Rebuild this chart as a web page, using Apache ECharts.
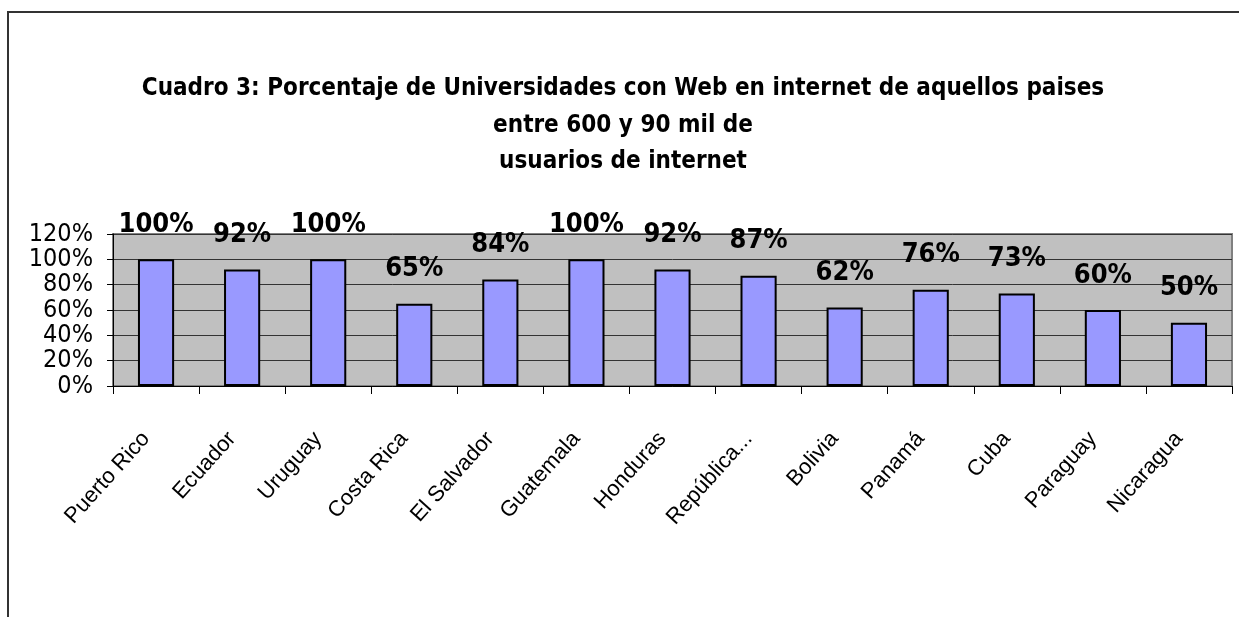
<!DOCTYPE html>
<html>
<head>
<meta charset="utf-8">
<script src="https://cdn.jsdelivr.net/npm/echarts@6/dist/echarts.min.js"></script>
<style>
  html, body { margin: 0; padding: 0; background: #fff; }
  .frame {
    position: absolute; left: 7px; top: 11px; width: 1240px; height: 620px;
    border-left: 2px solid #333; border-top: 2px solid #333;
  }
  #chart { position: absolute; left: 0; top: 0; width: 1239px; height: 617px; }
</style>
</head>
<body>
<div class="frame"></div>
<div id="chart"></div>
<script>
  // datos del cuadro 3
  const countries = ['Puerto Rico', 'Ecuador', 'Uruguay', 'Costa Rica', 'El Salvador', 'Guatemala',
    'Honduras', 'República...', 'Bolivia', 'Panamá', 'Cuba', 'Paraguay', 'Nicaragua'];
  const percents = [100, 92, 100, 65, 84, 100, 92, 87, 62, 76, 73, 60, 50];
  const yTicks = [0, 20, 40, 60, 80, 100, 120];
  const titleLines = ['Cuadro 3: Porcentaje de Universidades con Web en internet de aquellos paises',
    'entre 600 y 90 mil de', 'usuarios de internet'];

  const narrow = 'DejaVu Sans Condensed';

  let chart = echarts.init(document.getElementById('chart'));
  chart.setOption({
    animation: false,
    title: {
      text: titleLines.join('\n'),
      left: 618,
      textAlign: 'center',
      top: 66,
      textStyle: {
        fontFamily: narrow,
        fontWeight: 'bold',
        fontSize: 24,
        lineHeight: 36.5,
        color: '#000'
      }
    },
    grid: {
      left: 113, right: 7, top: 234, bottom: 231,
      show: true,
      backgroundColor: '#c0c0c0',
      borderColor: '#808080',
      borderWidth: 2
    },
    xAxis: {
      type: 'category',
      data: countries,
      axisLine: { lineStyle: { color: '#000', width: 1 } },
      axisTick: { show: true, length: 8, lineStyle: { color: '#000' } },
      axisLabel: {
        rotate: 48,
        margin: 38,
        padding: [0, 15, 0, 0],
        interval: 0,
        fontFamily: 'Liberation Sans',
        fontSize: 22,
        color: '#000'
      }
    },
    yAxis: {
      type: 'value',
      min: yTicks[0],
      max: yTicks[yTicks.length - 1],
      interval: 20,
      axisLine: { show: true, lineStyle: { color: '#000' } },
      axisTick: { show: true, length: 6, lineStyle: { color: '#000' } },
      axisLabel: {
        formatter: '{value}%',
        margin: 20,
        showMinLabel: true,
        showMaxLabel: true,
        fontFamily: narrow,
        fontSize: 25,
        lineHeight: 25,
        color: '#000'
      },
      splitLine: { lineStyle: { color: '#333', width: 1 } }
    },
    series: [{
      type: 'bar',
      data: percents,
      barWidth: '42%',
      itemStyle: { color: '#9999ff', borderColor: '#000', borderWidth: 2 },
      label: {
        show: true,
        position: 'top',
        distance: 21,
        formatter: '{c}%',
        fontFamily: narrow,
        fontWeight: 'bold',
        fontSize: 27,
        color: '#000'
      }
    }]
  });
</script>
</body>
</html>
